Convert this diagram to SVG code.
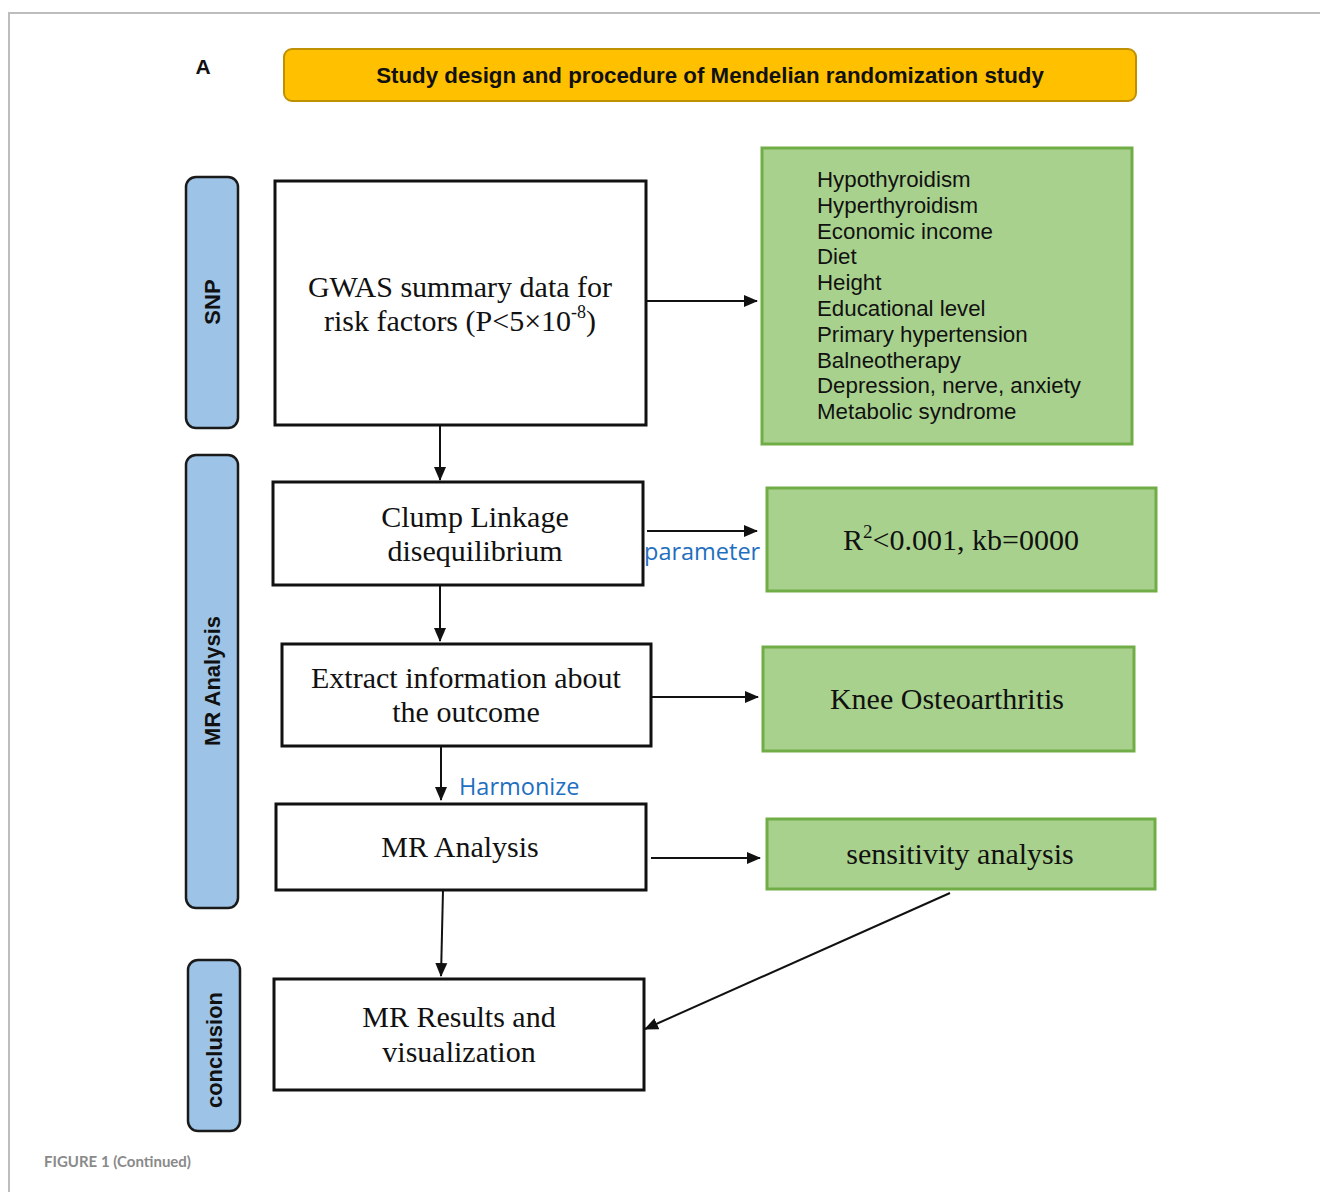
<svg xmlns="http://www.w3.org/2000/svg" width="1320" height="1192" viewBox="0 0 1320 1192">
<style>
.frame{fill:none;stroke:#bdbdbd;stroke-width:2}
.box{fill:#ffffff;stroke:#111;stroke-width:3}
.green{fill:#a9d18e;stroke:#70ad47;stroke-width:3}
.side{fill:#9dc3e6;stroke:#1a1a1a;stroke-width:2.5}
.ser{font-family:"Liberation Serif","Times New Roman",serif;font-size:30px;fill:#111;text-anchor:middle}
.sans{font-family:"Liberation Sans",Arial,sans-serif;fill:#111}
.side-t{font-family:"Liberation Sans",Arial,sans-serif;font-weight:bold;font-size:22px;fill:#111;text-anchor:middle}
.blue{font-family:"Open Sans","Noto Sans",sans-serif;font-size:23.5px;fill:#1f6fc0}
.conn{stroke:#111;stroke-width:2;fill:none}
</style>
<defs>
<marker id="ah" markerWidth="14" markerHeight="14" refX="13" refY="7" orient="auto" markerUnits="userSpaceOnUse">
<path d="M0,1 L14,7 L0,13 Z" fill="#111"/>
</marker>
</defs>
<path class="frame" d="M9,1192 L9,13 L1320,13"/>
<text x="203" y="74" class="sans" font-size="21" font-weight="bold" text-anchor="middle">A</text>
<g id="title">
<rect x="284" y="49" width="852" height="52" rx="8" fill="#ffc000" stroke="#bf9000" stroke-width="2"/>
<text x="710" y="83" class="sans" font-size="22.3" font-weight="bold" text-anchor="middle">Study design and procedure of Mendelian randomization study</text>
</g>
<g id="side-snp">
<rect class="side" x="186" y="177" width="52" height="251" rx="10"/>
<text class="side-t" transform="translate(220,302) rotate(-90)">SNP</text>
</g>
<g id="side-mr">
<rect class="side" x="186" y="455" width="52" height="453" rx="10"/>
<text class="side-t" transform="translate(220,681) rotate(-90)">MR Analysis</text>
</g>
<g id="side-conclusion">
<rect class="side" x="188" y="960" width="52" height="171" rx="10"/>
<text class="side-t" transform="translate(222,1050) rotate(-90)">conclusion</text>
</g>
<g id="gwas">
<rect class="box" x="275" y="181" width="371" height="244"/>
<text class="ser" x="460" y="297">GWAS summary data for</text>
<text class="ser" x="460" y="331">risk factors (P&lt;5×10<tspan font-size="18" dy="-13">-8</tspan><tspan dy="13">)</tspan></text>
</g>
<g id="risk-factors">
<rect class="green" x="762" y="148" width="370" height="296"/>
<g class="sans" font-size="22.3">
<text x="817" y="187">Hypothyroidism</text>
<text x="817" y="213">Hyperthyroidism</text>
<text x="817" y="239">Economic income</text>
<text x="817" y="264">Diet</text>
<text x="817" y="290">Height</text>
<text x="817" y="316">Educational level</text>
<text x="817" y="342">Primary hypertension</text>
<text x="817" y="368">Balneotherapy</text>
<text x="817" y="393">Depression, nerve, anxiety</text>
<text x="817" y="419">Metabolic syndrome</text>
</g>
</g>
<g id="clump">
<rect class="box" x="273" y="482" width="370" height="103"/>
<text class="ser" x="475" y="527">Clump Linkage</text>
<text class="ser" x="475" y="561">disequilibrium</text>
</g>
<g id="params">
<rect class="green" x="767" y="488" width="389" height="103"/>
<text class="ser" x="961" y="550">R<tspan font-size="19" dy="-12">2</tspan><tspan dy="12">&lt;0.001, kb=0000</tspan></text>
</g>
<g id="extract">
<rect class="box" x="282" y="644" width="369" height="102"/>
<text class="ser" x="466" y="688">Extract information about</text>
<text class="ser" x="466" y="722">the outcome</text>
</g>
<g id="knee">
<rect class="green" x="763" y="647" width="371" height="104"/>
<text class="ser" x="947" y="709">Knee Osteoarthritis</text>
</g>
<g id="mr-analysis">
<rect class="box" x="276" y="804" width="370" height="86"/>
<text class="ser" x="460" y="857">MR Analysis</text>
</g>
<g id="sensitivity">
<rect class="green" x="767" y="819" width="388" height="70"/>
<text class="ser" x="960" y="864">sensitivity analysis</text>
</g>
<g id="results">
<rect class="box" x="274" y="979" width="370" height="111"/>
<text class="ser" x="459" y="1027">MR Results and</text>
<text class="ser" x="459" y="1062">visualization</text>
</g>
<g id="connectors">
<line class="conn" x1="646" y1="301" x2="757" y2="301" marker-end="url(#ah)"/>
<line class="conn" x1="440" y1="425" x2="440" y2="480" marker-end="url(#ah)"/>
<line class="conn" x1="647" y1="531" x2="757" y2="531" marker-end="url(#ah)"/>
<text class="blue" x="644" y="560">parameter</text>
<line class="conn" x1="440" y1="585" x2="440" y2="641" marker-end="url(#ah)"/>
<line class="conn" x1="651" y1="697" x2="758" y2="697" marker-end="url(#ah)"/>
<line class="conn" x1="441" y1="746" x2="441" y2="800" marker-end="url(#ah)"/>
<text class="blue" x="459" y="795">Harmonize</text>
<line class="conn" x1="651" y1="858" x2="760" y2="858" marker-end="url(#ah)"/>
<line class="conn" x1="443" y1="890" x2="441" y2="976" marker-end="url(#ah)"/>
<line class="conn" x1="950" y1="893" x2="645" y2="1029" marker-end="url(#ah)"/>
</g>
<text x="44" y="1167" font-family="Lato,'Open Sans',sans-serif" font-size="15" font-weight="bold" fill="#8a8a8a">FIGURE 1 (Continued)</text>
</svg>
